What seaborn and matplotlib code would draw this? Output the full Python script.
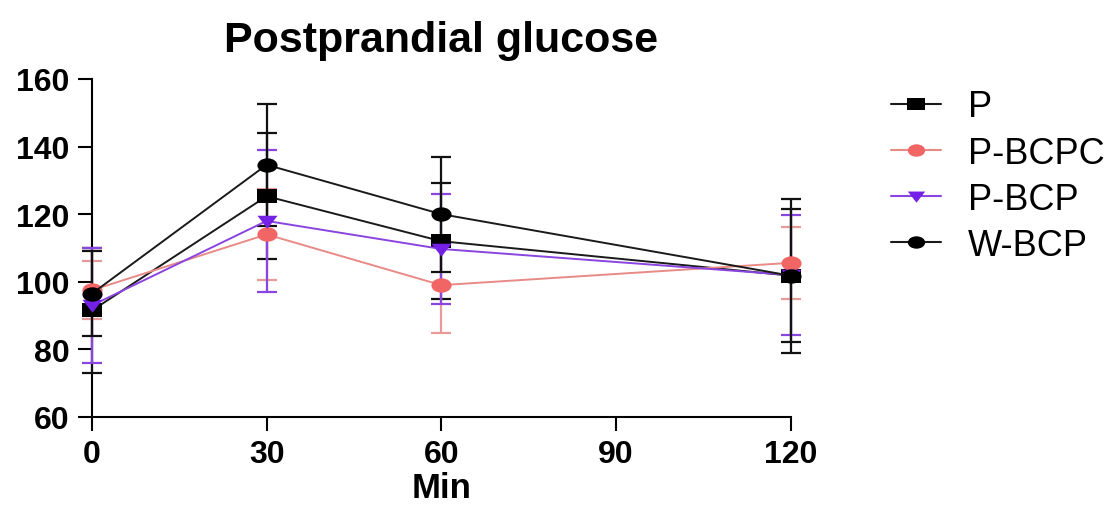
import numpy as np
import pandas as pd
import matplotlib
matplotlib.use("Agg")
import matplotlib.pyplot as plt
from matplotlib.path import Path
from matplotlib.transforms import Affine2D
from matplotlib.lines import Line2D
import seaborn as sns

# ---- data ----
time_min = [0, 30, 60, 120]
groups = ["P", "P-BCPC", "P-BCP", "W-BCP"]
p_mean = [91.5, 125.3, 112.0, 101.8]
p_sd = [18.5, 18.6, 17.2, 19.6]
pbcpc_mean = [97.5, 114.0, 99.0, 105.6]
pbcpc_sd = [8.5, 13.5, 14.2, 10.6]
pbcp_mean = [93.0, 118.0, 109.7, 102.0]
pbcp_sd = [17.0, 21.0, 16.4, 17.8]
wbcp_mean = [96.5, 134.6, 120.0, 101.8]
wbcp_sd = [12.5, 18.0, 17.0, 22.8]
x_ticks = [0, 30, 60, 90, 120]
y_ticks = [60, 80, 100, 120, 140, 160]

means = [p_mean, pbcpc_mean, pbcp_mean, wbcp_mean]
sds = [p_sd, pbcpc_sd, pbcp_sd, wbcp_sd]
rows = []
for g, m, s in zip(groups, means, sds):
    for t, mv, sv in zip(time_min, m, s):
        rows.append({"Min": t, "group": g, "mean": mv, "sd": sv})
df = pd.DataFrame(rows)

# ---- styles ----
marker_colors = {"P": "#000000", "P-BCPC": "#f26565", "P-BCP": "#7420e6", "W-BCP": "#000000"}
line_colors = {"P": "#1a1a1a", "P-BCPC": "#e88a86", "P-BCP": "#8a45e0", "W-BCP": "#1a1a1a"}
err_colors = {"P": "#111111", "P-BCPC": "#e89a98", "P-BCP": "#8a45e0", "W-BCP": "#111111"}

sx = 1.4  # horizontal stretch of markers (reference is stretched)
sq = Path([(-sx, -1), (sx, -1), (sx, 1), (-sx, 1), (-sx, -1)],
          [Path.MOVETO, Path.LINETO, Path.LINETO, Path.LINETO, Path.CLOSEPOLY])
circ = Path.unit_circle().transformed(Affine2D().scale(sx * 0.95, 0.95))
tri = Path([(-sx, 0.8), (sx, 0.8), (0, -1.0), (-sx, 0.8)],
           [Path.MOVETO, Path.LINETO, Path.LINETO, Path.CLOSEPOLY])
markers = {"P": sq, "P-BCPC": circ, "P-BCP": tri, "W-BCP": circ}

sns.set_theme(style="ticks")
plt.rcParams["font.family"] = ["Liberation Sans", "DejaVu Sans"]
plt.rcParams["text.color"] = "black"
plt.rcParams["axes.labelcolor"] = "black"
plt.rcParams["xtick.color"] = "black"
plt.rcParams["ytick.color"] = "black"

fig = plt.figure(figsize=(11.16, 5.06), dpi=100)
ax = fig.add_axes([0.0824, 0.174, 0.626, 0.668])

# error bars
for g in groups:
    d = df[df["group"] == g]
    ax.errorbar(d["Min"], d["mean"], yerr=d["sd"], fmt="none",
                ecolor=err_colors[g], elinewidth=1.6, capsize=7.5, capthick=1.6,
                zorder=3, clip_on=False)

# lines + markers via seaborn
for g in groups:
    d = df[df["group"] == g]
    sns.lineplot(data=d, x="Min", y="mean", ax=ax, color=line_colors[g],
                 linewidth=1.4, marker=markers[g], markersize=14.5,
                 markerfacecolor=marker_colors[g], markeredgecolor=marker_colors[g],
                 markeredgewidth=0, errorbar=None, legend=False,
                 zorder=4, clip_on=False)

ax.set_xlim(0, 120)
ax.set_ylim(60, 160)
ax.set_xticks(x_ticks)
ax.set_yticks(y_ticks)
ax.tick_params(axis="both", direction="out", length=10, width=1.5,
               labelsize=23, color="black", labelcolor="black", pad=6)
for lab in ax.get_xticklabels() + ax.get_yticklabels():
    lab.set_fontweight("bold")
for sp in ["top", "right"]:
    ax.spines[sp].set_visible(False)
for sp in ["left", "bottom"]:
    ax.spines[sp].set_linewidth(1.5)
    ax.spines[sp].set_color("black")

ax.set_xlabel("Min", fontsize=25, fontweight="bold", labelpad=1, color="black")
ax.set_ylabel("")
ax.set_title("Postprandial glucose", fontsize=31, fontweight="bold", pad=20,
             color="black")

handles = []
for g in groups:
    handles.append(Line2D([0], [0], color=line_colors[g], linewidth=1.5,
                          marker=markers[g], markersize=12.5,
                          markerfacecolor=marker_colors[g],
                          markeredgecolor=marker_colors[g], markeredgewidth=0))
fig.legend(handles, groups, loc="upper left", bbox_to_anchor=(0.785, 0.85),
           frameon=False, fontsize=26, handlelength=1.4, handletextpad=0.75,
           labelspacing=0.31, borderaxespad=0)

fig.savefig("out.png", dpi=100)
